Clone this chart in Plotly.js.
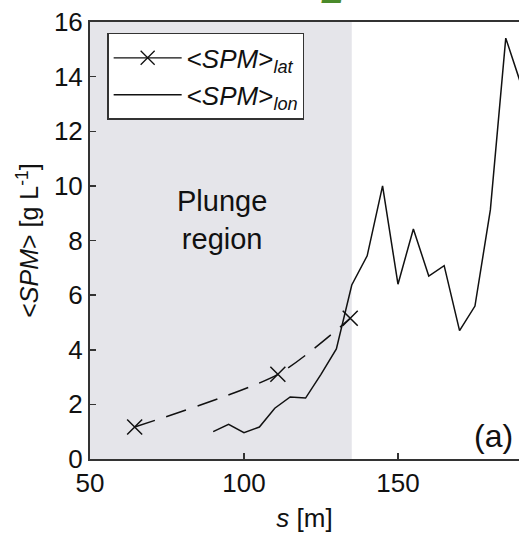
<!DOCTYPE html>
<html>
<head>
<meta charset="utf-8">
<script src="https://cdn.plot.ly/plotly-3.0.1.min.js"></script>
<style>html,body{margin:0;padding:0;background:#fff;}#chart{width:519px;height:539px;}</style>
</head>
<body>
<div id="chart"></div>
<script>
// Data
const latS = [64.5, 111, 134.5];
const latSPM = [1.17, 3.1, 5.15];

const lonS = [90, 95, 100, 105, 110, 115, 120, 125, 130, 135, 140, 145, 150, 155, 160, 165, 170, 175, 180, 185, 190];
const lonSPM = [1.0, 1.27, 0.96, 1.17, 1.86, 2.27, 2.23, 3.1, 4.03, 6.37, 7.44, 10.0, 6.4, 8.42, 6.7, 7.08, 4.7, 5.6, 9.12, 15.41, 13.7];

const plungeRegion = [50, 135];
const xTicks = [50, 100, 150];
const yTicks = [0, 2, 4, 6, 8, 10, 12, 14, 16];

const FONT = 'Liberation Sans, Arial, sans-serif';
const latName = '&lt;<i>SPM</i>&gt;<sub><i>lat</i></sub>';
const lonName = '&lt;<i>SPM</i>&gt;<sub><i>lon</i></sub>';

const traces = [
  {
    x: latS, y: latSPM, type: 'scatter', mode: 'lines+markers',
    name: latName, showlegend: false,
    line: {color: '#111', width: 1.5, dash: '21px,12px', shape: 'spline', smoothing: 0.7},
    marker: {symbol: 'x-thin-open', size: 15, color: '#111', line: {color: '#111', width: 1.5}}
  },
  {
    // legend entry for the lateral series (solid line with cross, as in the reference legend)
    x: [null], y: [null], type: 'scatter', mode: 'lines+markers',
    name: latName,
    line: {color: '#111', width: 1.2},
    marker: {symbol: 'x-thin-open', size: 14, color: '#111', line: {color: '#111', width: 1.3}}
  },
  {
    x: lonS, y: lonSPM, type: 'scatter', mode: 'lines',
    name: lonName,
    line: {color: '#111', width: 1.5}
  }
];

const layout = {
  width: 519, height: 539,
  margin: {l: 90, r: 0, t: 22, b: 80},
  paper_bgcolor: '#fff', plot_bgcolor: '#fff',
  font: {family: FONT, size: 25, color: '#111'},
  showlegend: true,
  legend: {
    x: 0.04, y: 0.975, xanchor: 'left', yanchor: 'top',
    bgcolor: '#fff', bordercolor: '#333', borderwidth: 1.5,
    font: {family: FONT, size: 26, color: '#111'},
    itemwidth: 68
  },
  xaxis: {
    range: [50, 189.3], tickvals: xTicks, ticktext: xTicks.map(String),
    ticks: 'inside', ticklen: 6, tickwidth: 1.5, tickcolor: '#333',
    showline: true, linecolor: '#333', linewidth: 2, mirror: true,
    showgrid: false, zeroline: false,
    tickfont: {family: FONT, size: 26, color: '#111'},
    title: {text: '<i>s</i> [m]', font: {family: FONT, size: 26, color: '#111'}, standoff: 12}
  },
  yaxis: {
    range: [0, 16], tickvals: yTicks, ticktext: yTicks.map(String),
    ticks: 'inside', ticklen: 6, tickwidth: 1.5, tickcolor: '#333',
    showline: true, linecolor: '#333', linewidth: 2, mirror: true,
    showgrid: false, zeroline: false,
    tickfont: {family: FONT, size: 26, color: '#111'},
    title: {text: '&lt;<i>SPM</i>&gt; [g L<sup>-1</sup>]', font: {family: FONT, size: 25, color: '#111'}, standoff: 8}
  },
  shapes: [
    {type: 'rect', xref: 'x', yref: 'y', x0: plungeRegion[0], x1: plungeRegion[1], y0: 0, y1: 16,
     fillcolor: '#e5e5ea', line: {width: 0}, layer: 'below'}
  ],
  annotations: [
    {xref: 'x', yref: 'y', x: 93, y: 8.75, text: 'Plunge<br>region', showarrow: false,
     font: {family: FONT, size: 29, color: '#111'}, align: 'center'},
    {xref: 'paper', yref: 'y', x: 0.99, y: 0.85, xanchor: 'right', text: '(a)', showarrow: false,
     font: {family: FONT, size: 32, color: '#111'}},
    {xref: 'paper', yref: 'paper', x: 0.565, y: 1.02, yanchor: 'bottom', text: '<b><i>2</i></b>', showarrow: false,
     font: {family: FONT, size: 40, color: '#4a8a2a'}}
  ]
};

Plotly.newPlot('chart', traces, layout, {displayModeBar: false, staticPlot: true});
</script>
</body>
</html>
